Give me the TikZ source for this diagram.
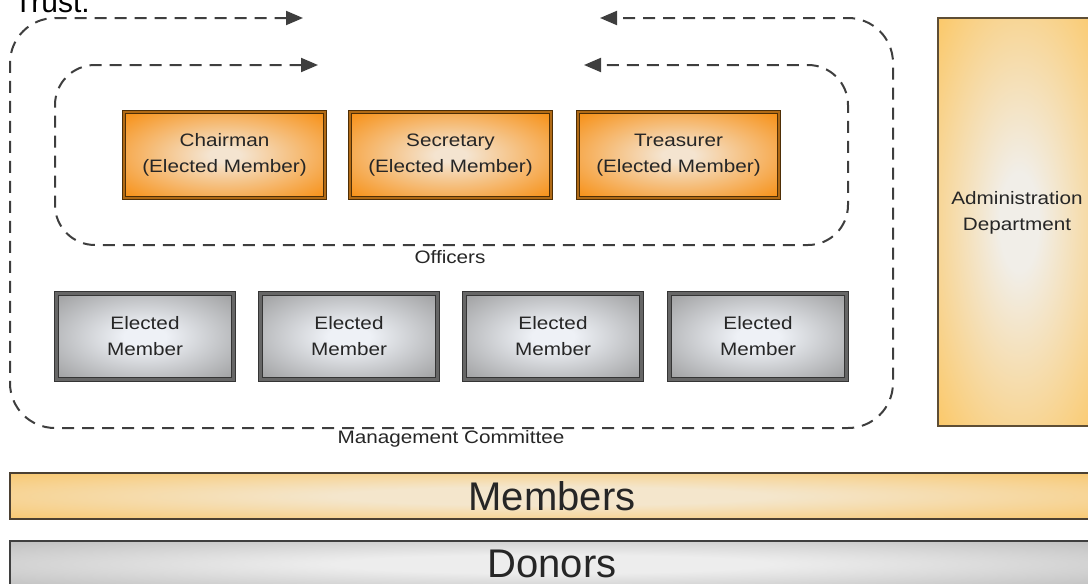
\documentclass[tikz,border=0pt]{standalone}
\usepackage{fontspec}
\setmainfont{Liberation Sans}
\newfontfamily\widesf[FakeStretch=1.15]{Liberation Sans}
\usetikzlibrary{arrows.meta}
\usepackage{xcolor}

\definecolor{ocentre}{HTML}{F4E4D0}
\definecolor{oedge}{HTML}{F7921A}
\definecolor{oline}{HTML}{4E2E06}
\definecolor{oband}{HTML}{B06A16}
\definecolor{gcentre}{HTML}{EEF1F6}
\definecolor{gedge}{HTML}{868686}
\definecolor{gline}{HTML}{353535}
\definecolor{gband}{HTML}{666666}
\definecolor{acentre}{HTML}{F1EEE8}
\definecolor{aedge}{HTML}{FCC55E}
\definecolor{aline}{HTML}{5E4E35}
\definecolor{mcentre}{HTML}{F4E6CC}
\definecolor{medge}{HTML}{FABE52}
\definecolor{mline}{HTML}{4B4032}
\definecolor{dcentre}{HTML}{EDEDED}
\definecolor{dedge}{HTML}{ADADAD}
\definecolor{dline}{HTML}{3F3F3F}
\definecolor{dashgrey}{HTML}{3E3E3E}
\definecolor{txt}{HTML}{262626}

\pgfdeclareradialshading{orangeglow}{\pgfpoint{0bp}{0bp}}{color(0bp)=(ocentre); color(4bp)=(ocentre); color(34bp)=(oedge); color(50bp)=(oedge)}
\pgfdeclareradialshading{greyglow}{\pgfpoint{0bp}{0bp}}{color(0bp)=(gcentre); color(6bp)=(gcentre); color(44bp)=(gedge); color(50bp)=(gedge)}
\pgfdeclareradialshading{adminglow}{\pgfpoint{0bp}{0bp}}{color(0bp)=(acentre); color(6bp)=(acentre); color(38bp)=(aedge); color(50bp)=(aedge)}
\pgfdeclareradialshading{memberglow}{\pgfpoint{0bp}{0bp}}{color(0bp)=(mcentre); color(10bp)=(mcentre); color(44bp)=(medge); color(50bp)=(medge)}
\pgfdeclareradialshading{donorglow}{\pgfpoint{0bp}{0bp}}{color(0bp)=(dcentre); color(10bp)=(dcentre); color(46bp)=(dedge); color(50bp)=(dedge)}

\begin{document}
\begin{tikzpicture}[x=1pt,y=-1pt,>={Triangle[length=17pt,width=14pt]},
        small text/.style={text=txt,align=center,font=\widesf\fontsize{18}{26}\selectfont},
        officer/.style={rectangle,small text,draw=oline,line width=1.3pt,double=oband,double distance=1.8pt,
                        shading=orangeglow,minimum width=201pt,minimum height=86pt},
        elected/.style={rectangle,small text,draw=gline,line width=1.3pt,double=gband,double distance=2.4pt,
                        shading=greyglow,minimum width=177pt,minimum height=86pt},
        bar/.style={rectangle,draw,line width=1.6pt,text=txt,inner sep=0pt,minimum width=1084pt,minimum height=46pt,
                    font=\fontsize{40}{44}\selectfont},
        frame/.style={draw=dashgrey,line width=2pt,dash pattern=on 12pt off 8pt,<->}]
    \useasboundingbox (0,0) rectangle (1088,584);
    \clip (0,0) rectangle (1088,584);

    % Nodes
    \node[anchor=base west,text=black,inner sep=0pt,font=\fontsize{30}{32}\selectfont] (trust) at (14,12) {Trust.};

    \node[officer] (chair) at (224.5,155) {Chairman\\(Elected Member)};
    \node[officer] (secy) [right of = chair,node distance=226pt] {Secretary\\(Elected Member)};
    \node[officer] (treas) [right of = secy,node distance=228pt] {Treasurer\\(Elected Member)};

    \node[elected] (em1) at (145,336.5) {Elected\\Member};
    \node[elected] (em2) [right of = em1,node distance=204pt] {Elected\\Member};
    \node[elected] (em3) [right of = em2,node distance=204pt] {Elected\\Member};
    \node[elected] (em4) [right of = em3,node distance=205pt] {Elected\\Member};

    \node[rectangle,draw=aline,line width=1.6pt,shading=adminglow,minimum width=162pt,minimum height=408pt]
        (admin) at (1019,222) {};
    \node[small text] (adminlabel) at (1017,213) {Administration\\Department};

    \node[bar,draw=mline,shading=memberglow] (members) at (552,496) {Members};
    \node[bar,draw=dline,shading=donorglow] (donors) at (552,564) {Donors};

    \node[small text] (officers) at (450,257) {Officers};
    \node[small text] (committee) at (451,439) {Management Committee};

    % Edges
    \coordinate (otipL) at (303,18);
    \coordinate (otipR) at (600,18);
    \coordinate (itipL) at (318,65);
    \coordinate (itipR) at (584,65);

    \draw[frame,rounded corners=45pt] (otipL) -- (10,18) -- (10,428) -- (893,428) -- (893,18) -- (otipR);
    \draw[frame,rounded corners=40pt] (itipL) -- (55,65) -- (55,245) -- (848,245) -- (848,65) -- (itipR);
\end{tikzpicture}
\end{document}
